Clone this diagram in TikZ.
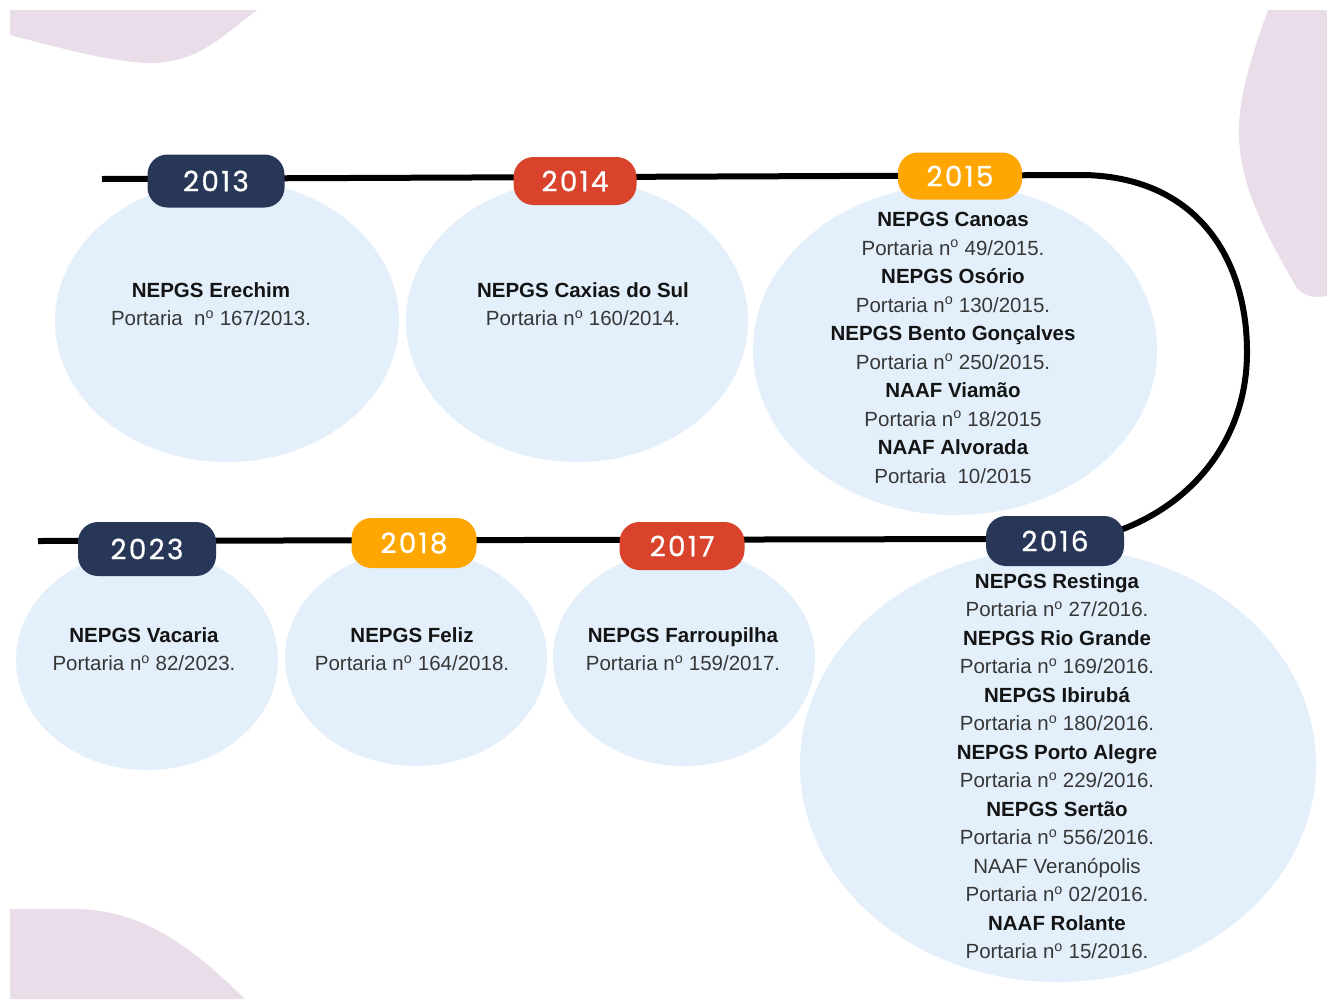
\documentclass[tikz,border=0pt]{standalone}
\usepackage{fontspec}
\setmainfont{Liberation Sans}
\newfontfamily\yearfont[LetterSpace=8,FakeBold=0.6]{Poppins}
\definecolor{bubble}{RGB}{227,239,251}
\definecolor{pinkblob}{RGB}{232,221,232}
\definecolor{navy}{RGB}{40,55,88}
\definecolor{redy}{RGB}{217,67,43}
\definecolor{orangey}{RGB}{255,166,0}
\definecolor{txtdark}{RGB}{20,20,20}
\definecolor{txtreg}{RGB}{55,55,55}
\newcommand{\tb}[1]{{\bfseries\color{txtdark}#1}}
\newcommand{\nro}{n\textsuperscript{o}}
\pgfdeclarelayer{bg}
\pgfsetlayers{bg,main}
\tikzset{
  bub/.style={fill=bubble, draw=none},
  badge/.style={rounded corners=20pt, minimum height=#1, inner sep=0pt, text=white, font=\yearfont\fontsize{28}{28}\selectfont},
  badge/.default=50pt,
  tline/.style={line width=6pt, black},
  info/.style={align=center, inner sep=0pt, text=txtreg, font=\fontsize{20.5}{28.5}\selectfont},
}
\begin{document}
\begin{tikzpicture}[x=1pt,y=-1pt]
\useasboundingbox (0,0) rectangle (1327,999);
% badges
\node[badge=53pt, fill=navy, minimum width=137pt] (y2013) at (216,181) {2013};
\node[badge=48pt, fill=redy, minimum width=123pt] (y2014) at (575,181) {2014};
\node[badge=47pt, fill=orangey, minimum width=124pt] (y2015) at (960,176) {2015};
\node[badge=50pt, fill=navy, minimum width=138pt] (y2016) at (1055,541) {2016};
\node[badge=48pt, fill=redy, minimum width=125pt] (y2017) at (682,546) {2017};
\node[badge=50pt, fill=orangey, minimum width=125pt] (y2018) at (414,543) {2018};
\node[badge=54pt, fill=navy, minimum width=138pt] (y2023) at (147,549) {2023};
\coordinate (startT) at (102,179);
\coordinate (turnA) at (1085,175);
\coordinate (arcEnd) at (1105,535);
\coordinate (startB) at (1000,539);
\coordinate (endB) at (38,541);
\begin{pgfonlayer}{bg}
\fill[white] (0,0) rectangle (1327,999);
% decorative blobs
\fill[pinkblob] (10,10) -- (257,10) .. controls (215,42) and (195,64) .. (145,63) .. controls (100,60) and (50,45) .. (10,35) -- cycle;
\fill[pinkblob] (1268,10) .. controls (1250,60) and (1238,100) .. (1239,135) .. controls (1240,190) and (1270,240) .. (1295,285) .. controls (1302,297) and (1315,298) .. (1327,296) -- (1327,10) -- cycle;
\fill[pinkblob] (10,909) -- (80,909) .. controls (140,912) and (185,940) .. (245,999) -- (10,999) -- cycle;
% bubbles
\fill[bub] (227,321) ellipse [x radius=172, y radius=141];
\fill[bub] (577,321) ellipse [x radius=171, y radius=141];
\fill[bub] (955,350) ellipse [x radius=202, y radius=165];
\fill[bub] (147,660) ellipse [x radius=131, y radius=110];
\fill[bub] (416,658) ellipse [x radius=131, y radius=108];
\fill[bub] (684,658) ellipse [x radius=131, y radius=108];
\fill[bub] (1058,765) ellipse [x radius=258, y radius=217];
% timeline
\draw[tline] (startT) -- (turnA) .. controls (1200,178) and (1247,262) .. (1247,352) .. controls (1247,445) and (1185,512) .. (arcEnd);
\draw[tline] (startB) -- (endB);
\end{pgfonlayer}
% texts
\node[info] (t2013) at (211,304) {\tb{NEPGS Erechim}\\Portaria\ \ \nro\ 167/2013.};
\node[info] (t2014) at (583,304) {\tb{NEPGS Caxias do Sul}\\Portaria \nro\ 160/2014.};
\node[info] (t2015) at (953,348) {\tb{NEPGS Canoas}\\Portaria \nro\ 49/2015.\\\tb{NEPGS Osório}\\Portaria \nro\ 130/2015.\\\tb{NEPGS Bento Gonçalves}\\Portaria \nro\ 250/2015.\\\tb{NAAF Viamão}\\Portaria \nro\ 18/2015\\\tb{NAAF Alvorada}\\Portaria\ \ 10/2015};
\node[info] (t2023) at (144,649) {\tb{NEPGS Vacaria}\\Portaria \nro\ 82/2023.};
\node[info] (t2018) at (412,649) {\tb{NEPGS Feliz}\\Portaria \nro\ 164/2018.};
\node[info] (t2017) at (683,649) {\tb{NEPGS Farroupilha}\\Portaria \nro\ 159/2017.};
\node[info] (t2016) at (1057,766) {\tb{NEPGS Restinga}\\Portaria \nro\ 27/2016.\\\tb{NEPGS Rio Grande}\\Portaria \nro\ 169/2016.\\\tb{NEPGS Ibirubá}\\Portaria \nro\ 180/2016.\\\tb{NEPGS Porto Alegre}\\Portaria \nro\ 229/2016.\\\tb{NEPGS Sertão}\\Portaria \nro\ 556/2016.\\NAAF Veranópolis\\Portaria \nro\ 02/2016.\\\tb{NAAF Rolante}\\Portaria \nro\ 15/2016.};
\end{tikzpicture}
\end{document}
